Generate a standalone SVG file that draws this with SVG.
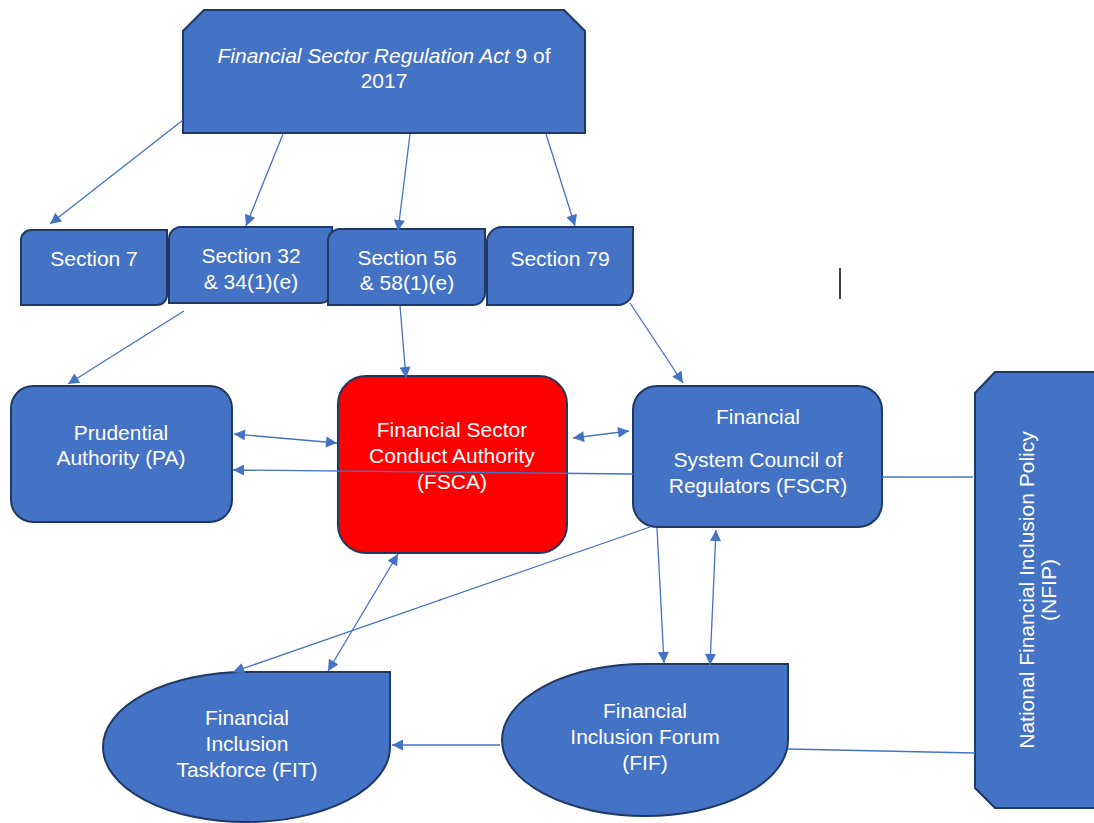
<svg xmlns="http://www.w3.org/2000/svg" width="1094" height="823" viewBox="0 0 1094 823">
<style>
.n{fill:#4472C4;stroke:#1F3864;stroke-width:2}
.r{fill:#FF0000;stroke:#1F3864;stroke-width:2}
.t{font-family:"Liberation Sans",Arial,sans-serif;font-size:21px;fill:#FFFFFF;text-anchor:middle}
.c{stroke:#4472C4;stroke-width:1.3;fill:none}
</style>
<defs>
<marker id="ah" viewBox="0 0 10 10" refX="10" refY="5" markerWidth="13" markerHeight="11" markerUnits="userSpaceOnUse" orient="auto-start-reverse">
<path d="M0,0 L10,5 L0,10 Z" fill="#4472C4"/>
</marker>
</defs>
<rect width="1094" height="823" fill="#FFFFFF"/>
<g id="fsra">
<path class="n" d="M204,10 H564 L585,31 V133 H183 V31 Z"/>
<text class="t" x="384" y="63"><tspan font-style="italic">Financial Sector Regulation Act</tspan> 9 of</text>
<text class="t" x="384" y="88">2017</text>
</g>
<g id="s7">
<path class="n" d="M31,230 H167 V295 A10,10 0 0 1 157,305 H21 V240 A10,10 0 0 1 31,230 Z"/>
<text class="t" x="94" y="266">Section 7</text>
</g>
<g id="s32">
<path class="n" d="M181,227 H332 V291 A12,12 0 0 1 320,303 H169 V239 A12,12 0 0 1 181,227 Z"/>
<text class="t" x="251" y="263">Section 32</text>
<text class="t" x="251" y="289">&amp; 34(1)(e)</text>
</g>
<g id="s56">
<path class="n" d="M340,229 H485 V293 A12,12 0 0 1 473,305 H328 V241 A12,12 0 0 1 340,229 Z"/>
<text class="t" x="407" y="265">Section 56</text>
<text class="t" x="407" y="290">&amp; 58(1)(e)</text>
</g>
<g id="s79">
<path class="n" d="M502,227 H633 V290 A15,15 0 0 1 618,305 H487 V242 A15,15 0 0 1 502,227 Z"/>
<text class="t" x="560" y="266">Section 79</text>
</g>
<g id="pa">
<rect class="n" x="11" y="386" width="221" height="136" rx="22"/>
<text class="t" x="121" y="440">Prudential</text>
<text class="t" x="121" y="465">Authority (PA)</text>
</g>
<g id="fsca">
<rect class="r" x="338" y="376" width="229" height="177" rx="28"/>
<text class="t" x="452" y="437">Financial Sector</text>
<text class="t" x="452" y="463">Conduct Authority</text>
<text class="t" x="452" y="489">(FSCA)</text>
</g>
<g id="fscr">
<rect class="n" x="633" y="386" width="249" height="141" rx="24"/>
<text class="t" x="758" y="424">Financial</text>
<text class="t" x="758" y="467">System Council of</text>
<text class="t" x="758" y="493">Regulators (FSCR)</text>
</g>
<g id="nfip">
<path class="n" d="M995,372 H1100 V808 H995 L975,788 V393 Z"/>
<text class="t" transform="translate(1034,590) rotate(-90)"><tspan x="0" y="0">National Financial Inclusion Policy</tspan><tspan x="0" y="22">(NFIP)</tspan></text>
</g>
<g id="fit">
<path class="n" d="M246,672 H390 V747 A143,75 0 0 1 246,822 A143,75 0 0 1 103,747 A143,75 0 0 1 246,672 Z"/>
<text class="t" x="247" y="725">Financial</text>
<text class="t" x="247" y="751">Inclusion</text>
<text class="t" x="247" y="777">Taskforce (FIT)</text>
</g>
<g id="fif">
<path class="n" d="M645,664 H788 V740 A143,76 0 0 1 645,816 A143,76 0 0 1 502,740 A143,76 0 0 1 645,664 Z"/>
<text class="t" x="645" y="718">Financial</text>
<text class="t" x="645" y="744">Inclusion Forum</text>
<text class="t" x="645" y="770">(FIF)</text>
</g>
<g id="connectors">
<path class="c" d="M183,120 L50,224" marker-end="url(#ah)"/>
<path class="c" d="M283,134 L246,226" marker-end="url(#ah)"/>
<path class="c" d="M410,134 L398,231" marker-end="url(#ah)"/>
<path class="c" d="M546,134 L575,226" marker-end="url(#ah)"/>
<path class="c" d="M184,311 L68,384" marker-end="url(#ah)"/>
<path class="c" d="M400,306 L406,378" marker-end="url(#ah)"/>
<path class="c" d="M630,303 L683,383" marker-end="url(#ah)"/>
<path class="c" d="M234,434 L337,443" marker-start="url(#ah)" marker-end="url(#ah)"/>
<path class="c" d="M573,438 L629,431" marker-start="url(#ah)" marker-end="url(#ah)"/>
<path class="c" d="M633,474 L233,470" marker-end="url(#ah)"/>
<path class="c" d="M882,477 L973,477"/>
<path class="c" d="M398,554 L328,671" marker-start="url(#ah)" marker-end="url(#ah)"/>
<path class="c" d="M650,527 L233,672" marker-end="url(#ah)"/>
<path class="c" d="M657,528 L664,663" marker-end="url(#ah)"/>
<path class="c" d="M716,530 L710,665" marker-start="url(#ah)" marker-end="url(#ah)"/>
<path class="c" d="M500,745 L392,745" marker-end="url(#ah)"/>
<path class="c" d="M788,749 L975,753"/>
</g>
<line x1="840" y1="268" x2="840" y2="299" stroke="#000000" stroke-width="1.5"/>
</svg>
